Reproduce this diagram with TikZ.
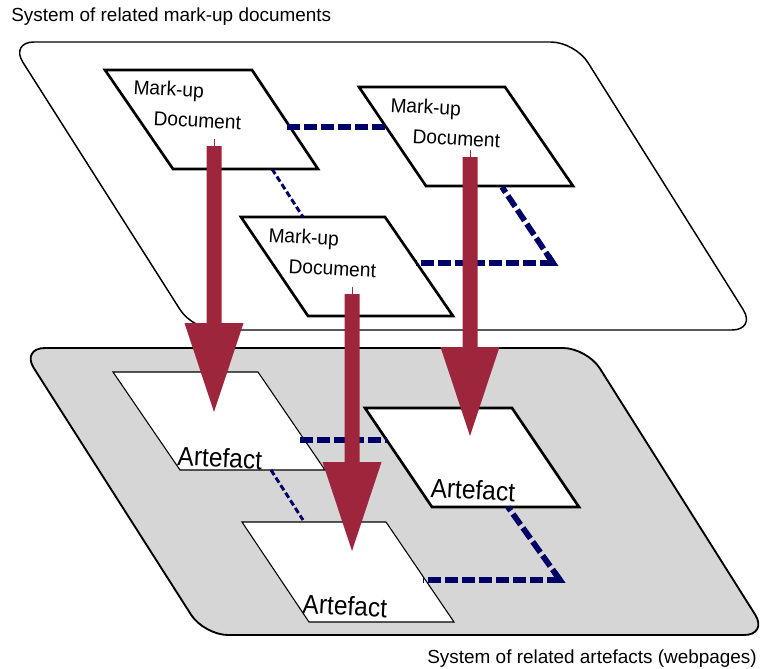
\documentclass[tikz,border=0pt]{standalone}
\usepackage{fontspec}
\setmainfont{Liberation Sans}
\usetikzlibrary{calc}
\definecolor{navy}{RGB}{0,0,102}
\definecolor{arrowred}{RGB}{158,38,60}
\definecolor{planegray}{RGB}{214,214,214}
\newcommand{\bigredarrow}[2]{%
  \fill[arrowred] ($(#1)+(-7.5,0)$) -- ($(#1)+(7.5,0)$) -- ($(#2)+(7.5,-89)$)
    -- ($(#2)+(29.5,-89)$) -- (#2) -- ($(#2)+(-29.5,-89)$) -- ($(#2)+(-7.5,-89)$) -- cycle;
  \draw[tick] (#1) -- ++(0,-7);}
\newcommand{\elbowlink}[3]{%
  \draw[linkthick] (#2) -- (#1);
  \draw[linkthick] (#2) -- (#3);
  \draw[navy, line width=4.3pt, line join=miter, miter limit=20]
    ($(#2)!7pt!(#1)$) -- (#2) -- ($(#2)!7pt!(#3)$);}
\begin{document}
\begin{tikzpicture}[x=0.75pt,y=-0.75pt,
  plane/.style={draw=black, line width=1.1pt, rounded corners=18pt},
  docbox/.style={draw=black, fill=white, line width=2pt, line join=miter},
  artthin/.style={draw=black, fill=white, line width=0.8pt},
  artthick/.style={draw=black, fill=white, line width=2pt},
  linkthick/.style={draw=navy, line width=4.3pt, dash pattern=on 9.75pt off 3pt},
  linkthin/.style={draw=navy, line width=2.2pt, dash pattern=on 4.5pt off 2.25pt},
  tick/.style={draw=arrowred, line width=0.6pt},
  doctext/.style={font=\fontsize{15}{15}\selectfont, anchor=base west, inner sep=0pt, rotate=-3, xscale=0.96},
  arttext/.style={font=\fontsize{20}{20}\selectfont, anchor=base west, inner sep=0pt, rotate=-3, xscale=0.92},
  title/.style={font=\fontsize{14.2}{14.2}\selectfont, inner sep=0pt}
]
\useasboundingbox (0,0) rectangle (760,668);

% labels
\node[title, anchor=base west] (toplabel) at (11,21.5) {System of related mark-up documents};
\node[title, anchor=base east] (botlabel) at (757,663) {System of related artefacts (webpages)};

% top plane
\draw[plane, fill=white] (10,42) -- (575,42) -- (756,330) -- (193,330) -- cycle;

% documents
\draw[docbox] (105,70) -- (252,70) -- (318,169) -- (173,169) -- cycle;
\draw[docbox] (359,87) -- (505,87) -- (573,186) -- (426,186) -- cycle;
\draw[docbox] (241,217) -- (385,217) -- (453,316) -- (308,316) -- cycle;
\node[doctext] (d1a) at (133,94) {Mark-up};
\node[doctext] (d1b) at (153,125) {Document};
\node[doctext] (d2a) at (390,112) {Mark-up};
\node[doctext] (d2b) at (412,143) {Document};
\node[doctext] (d3a) at (268,242) {Mark-up};
\node[doctext] (d3b) at (288,273) {Document};

% top links
\coordinate (l1a) at (287,127);
\coordinate (l1b) at (386,127);
\coordinate (l2a) at (272,169);
\coordinate (l2b) at (303,217);
\coordinate (l3a) at (416,263);
\coordinate (l3c) at (553,263);
\coordinate (l3b) at (502,187);
\draw[linkthick] (l1a) -- (l1b);
\draw[linkthin] (l2a) -- (l2b);
\elbowlink{l3a}{l3c}{l3b}

% bottom plane
\draw[plane, fill=planegray, line width=1.4pt] (21,348) -- (587,348) -- (768,635) -- (204,635) -- cycle;

% artefacts
\draw[artthin] (113,372) -- (258,372) -- (325,470) -- (180,470) -- cycle;
\draw[artthick] (365,408) -- (512,408) -- (579,507) -- (432,507) -- cycle;
\draw[artthin] (242,522) -- (386,522) -- (454,622) -- (309,622) -- cycle;
\node[arttext] (a1t) at (177,465) {Artefact};
\node[arttext] (a2t) at (430,497) {Artefact};
\node[arttext] (a3t) at (302,613) {Artefact};

% bottom links
\coordinate (m1a) at (300,440);
\coordinate (m1b) at (387,440);
\coordinate (m2a) at (271,470);
\coordinate (m2b) at (303,520);
\coordinate (m3a) at (423,580);
\coordinate (m3c) at (560,580);
\coordinate (m3b) at (508,507);
\draw[linkthick] (m1a) -- (m1b);
\draw[linkthin] (m2a) -- (m2b);
\elbowlink{m3a}{m3c}{m3b}

% red arrows
\coordinate (r1s) at (214,146);
\coordinate (r1e) at (214,412);
\coordinate (r2s) at (352,294);
\coordinate (r2e) at (352,551);
\coordinate (r3s) at (470,157);
\coordinate (r3e) at (470,436);
\bigredarrow{r1s}{r1e}
\bigredarrow{r2s}{r2e}
\bigredarrow{r3s}{r3e}
\end{tikzpicture}
\end{document}
